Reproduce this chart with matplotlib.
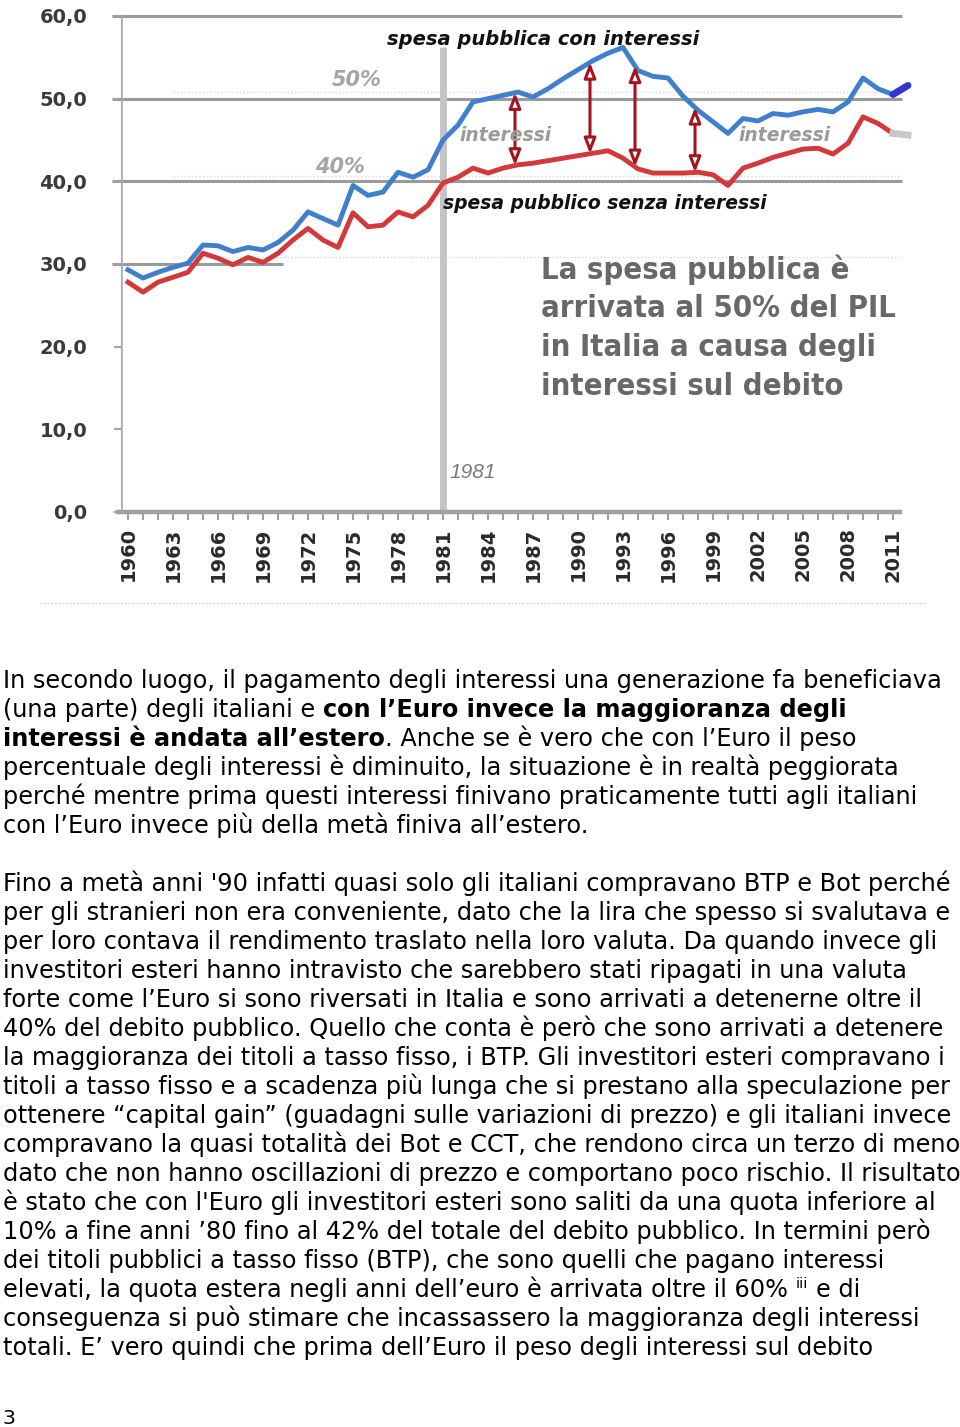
import os
import numpy as np
import matplotlib
matplotlib.use('Agg')
import matplotlib.pyplot as plt
from matplotlib.lines import Line2D
from matplotlib import font_manager as fm

# spesa pubblica in % del PIL
years = list(range(1960, 2012))
con_interessi = [29.3, 28.3, 29.0, 29.6, 30.1, 32.3, 32.2, 31.5, 32.0, 31.7,
                 32.6, 34.1, 36.3, 35.5, 34.7, 39.5, 38.3, 38.7, 41.1, 40.5,
                 41.4, 45.0, 46.8, 49.6, 50.0, 50.4, 50.8, 50.2, 51.2, 52.4,
                 53.5, 54.6, 55.5, 56.2, 53.4, 52.7, 52.5, 50.3, 48.6, 47.2,
                 45.8, 47.6, 47.3, 48.2, 48.0, 48.4, 48.7, 48.4, 49.6, 52.5,
                 51.2, 50.5]
senza_interessi = [27.8, 26.6, 27.8, 28.4, 29.0, 31.3, 30.7, 29.9, 30.8, 30.2,
                   31.3, 32.9, 34.3, 32.9, 32.0, 36.2, 34.5, 34.7, 36.3, 35.7,
                   37.1, 39.8, 40.5, 41.6, 41.0, 41.6, 42.0, 42.2, 42.5, 42.8,
                   43.1, 43.4, 43.7, 42.8, 41.5, 41.0, 41.0, 41.0, 41.1, 40.8,
                   39.5, 41.6, 42.2, 42.9, 43.4, 43.9, 44.0, 43.3, 44.6, 47.8,
                   47.0, 45.8]
forecast_years = [2011, 2012]
forecast_con = [50.5, 51.6]
forecast_senza = [45.8, 45.6]

arrow_years = [1985.8, 1990.8, 1993.8, 1997.8]
ytick_vals = [0, 10, 20, 30, 40, 50, 60]
ytick_labels = ['0,0', '10,0', '20,0', '30,0', '40,0', '50,0', '60,0']
xtick_vals = list(range(1960, 2012, 3))

big_note = ['La spesa pubblica è', 'arrivata al 50% del PIL',
            'in Italia a causa degli', 'interessi sul debito']

para1 = [
    [('In secondo luogo, il pagamento degli interessi una generazione fa beneficiava', 'n')],
    [('(una parte) degli italiani e', 'n'), (' ', 'n'), ('con l’Euro invece la maggioranza degli', 'b')],
    [('interessi è andata all’estero', 'b'), ('. Anche se è vero che con l’Euro il peso', 'n')],
    [('percentuale degli interessi è diminuito, la situazione è in realtà peggiorata', 'n')],
    [('perché mentre prima questi interessi finivano praticamente tutti agli italiani', 'n')],
    [('con l’Euro invece più della metà finiva all’estero.', 'n')],
]
para2 = [
    [("Fino a metà anni '90 infatti quasi solo gli italiani compravano BTP e Bot perché", 'n')],
    [('per gli stranieri non era conveniente, dato che la lira che spesso si svalutava e', 'n')],
    [('per loro contava il rendimento traslato nella loro valuta. Da quando invece gli', 'n')],
    [('investitori esteri hanno intravisto che sarebbero stati ripagati in una valuta', 'n')],
    [('forte come l’Euro si sono riversati in Italia e sono arrivati a detenerne oltre il', 'n')],
    [('40% del debito pubblico. Quello che conta è però che sono arrivati a detenere', 'n')],
    [('la maggioranza dei titoli a tasso fisso, i BTP. Gli investitori esteri compravano i', 'n')],
    [('titoli a tasso fisso e a scadenza più lunga che si prestano alla speculazione per', 'n')],
    [('ottenere “capital gain” (guadagni sulle variazioni di prezzo) e gli italiani invece', 'n')],
    [('compravano la quasi totalità dei Bot e CCT, che rendono circa un terzo di meno', 'n')],
    [('dato che non hanno oscillazioni di prezzo e comportano poco rischio. Il risultato', 'n')],
    [("è stato che con l'Euro gli investitori esteri sono saliti da una quota inferiore al", 'n')],
    [('10% a fine anni ’80 fino al 42% del totale del debito pubblico. In termini però', 'n')],
    [('dei titoli pubblici a tasso fisso (BTP), che sono quelli che pagano interessi', 'n')],
    [('elevati, la quota estera negli anni dell’euro è arrivata oltre il 60%', 'n'), (' ', 'n'),
     ('iii', 's'), (' ', 'n'), ('e di', 'n')],
    [('conseguenza si può stimare che incassassero la maggioranza degli interessi', 'n')],
    [('totali. E’ vero quindi che prima dell’Euro il peso degli interessi sul debito', 'n')],
]

W, H = 960, 1427
fig = plt.figure(figsize=(W / 100, H / 100), dpi=100)
r = fig.canvas.get_renderer()


def fx(px):
    return px / W


def fy(py):
    return 1 - py / H


def find_condensed_bold():
    # look for a narrow/condensed bold face among the installed fonts
    for f in fm.fontManager.ttflist:
        base = os.path.basename(f.fname).lower()
        if ('narrow' in base or 'condensed' in base) and 'bold' in base \
                and 'italic' not in base and 'oblique' not in base:
            return fm.FontProperties(fname=f.fname)
    return fm.FontProperties(family='Liberation Sans', weight='bold')


# chart axes: 1960 at x=128 px, 15 px per year; 0 at y=512, 60 at y=16
x0, x1 = 1959.5, 2013.5
ax = fig.add_axes([fx(120.5), fy(512), 810 / W, 496 / H])
ax.set_xlim(x0, x1)
ax.set_ylim(0, 60)
for s in ax.spines.values():
    s.set_visible(False)

grid_c = '#9a9a9a'
ax.hlines([60, 50, 40], 1958.9, 2011.6, color=grid_c, lw=2.2, zorder=1, clip_on=False)
ax.hlines([30], 1958.9, 1970.3, color=grid_c, lw=2.2, zorder=1, clip_on=False)
ax.hlines([50.8, 40.7, 30.8], 1963, 2011.6, color='#d8d8d8', lw=1, ls=':', zorder=1)
ax.vlines([x0], 0, 60, color='#a8a8a8', lw=1.8, zorder=1)
ax.hlines([0], x0 - 0.3, 2011.6, color='#a0a0a0', lw=3.2, zorder=2, clip_on=False)
ax.vlines([1981], 0, 56.2, color='#c4c4c4', lw=5, zorder=1)

ax.set_yticks(ytick_vals)
ax.set_yticklabels(ytick_labels, fontsize=14, fontweight='bold', color='#3a3a3a')
ax.tick_params(axis='y', length=5, width=1.5, color='#a0a0a0', pad=19)
ax.set_xticks(xtick_vals)
ax.set_xticklabels([str(y) for y in xtick_vals], rotation=90, fontsize=14,
                   fontweight='bold', color='#2a2a2a')
ax.set_xticks(years, minor=True)
ax.tick_params(axis='x', which='both', length=6, width=1.5, color='#a0a0a0', pad=5)

ax.plot(years, con_interessi, color='#3f7fcc', lw=3.5, zorder=3, solid_joinstyle='round')
ax.plot(years, senza_interessi, color='#d3383a', lw=3.5, zorder=3, solid_joinstyle='round')
ax.plot(forecast_years, forecast_con, color='#3535d6', lw=5, zorder=3, solid_capstyle='round')
ax.plot(forecast_years, forecast_senza, color='#c8c8c8', lw=5, zorder=3)

for xa in arrow_years:
    top = np.interp(xa, years, con_interessi)
    bot = np.interp(xa, years, senza_interessi)
    ax.annotate('', xy=(xa, top), xytext=(xa, bot), zorder=4,
                arrowprops=dict(arrowstyle='<|-|>,head_length=0.9,head_width=0.35',
                                color='#a3141f', fc='white', lw=2.2,
                                shrinkA=0, shrinkB=0))

ax.text(1987.7, 57.2, 'spesa pubblica con interessi', fontsize=14, fontweight='bold',
        style='italic', ha='center', va='center', color='#111111', zorder=5)
ax.text(1980.97, 37.3, 'spesa pubblico senza interessi', fontsize=13.5, fontweight='bold',
        style='italic', ha='left', va='center', color='#111111', zorder=5)
ax.text(1982.1, 45.6, 'interessi', fontsize=13.5, fontweight='bold', style='italic',
        ha='left', va='center', color='#9a9a9a', zorder=5)
ax.text(2000.7, 45.6, 'interessi', fontsize=13.5, fontweight='bold', style='italic',
        ha='left', va='center', color='#9a9a9a', zorder=5)
ax.text(1973.6, 52.2, '50%', fontsize=15, fontweight='bold', style='italic',
        ha='left', va='center', color='#a5a5a5', zorder=5)
ax.text(1972.5, 41.7, '40%', fontsize=15, fontweight='bold', style='italic',
        ha='left', va='center', color='#a5a5a5', zorder=5)
ax.text(1981.4, 4.8, '1981', fontsize=15, style='italic', family='Liberation Sans',
        ha='left', va='center', color='#7a7a7a', zorder=5)

# big gray note, fitted so that its widest line is ~354 px
note_fp = find_condensed_bold()
probe = fig.text(0, 0, big_note[1], fontproperties=note_fp, fontsize=26)
note_size = 26 * 354 / probe.get_window_extent(r).width
probe.remove()
for i, line in enumerate(big_note):
    fig.text(fx(541), fy(270 + i * 38.7), line, fontproperties=note_fp,
             fontsize=note_size, color='#686868', ha='left', va='center')

fig.add_artist(Line2D([fx(40), fx(925)], [fy(603), fy(603)], ls=':', lw=1, color='#cccccc'))


# body text
def text_w(s, size, weight='normal'):
    t = fig.text(0, 0, s, fontsize=size, fontweight=weight, family='DejaVu Sans')
    w = t.get_window_extent(r).width
    t.remove()
    return w


size = 16 * 944 / text_w(para1[0][0][0], 16)
space = text_w('a a', size) - text_w('aa', size)


def draw_line(segs, base):
    x = 3
    for txt, kind in segs:
        if txt == ' ':
            x += space
            continue
        if kind == 's':
            t = fig.text(fx(x), fy(base - 9), txt, fontsize=size * 0.6, va='baseline',
                         family='DejaVu Sans', color='black')
        else:
            t = fig.text(fx(x), fy(base), txt, fontsize=size, va='baseline',
                         fontweight='bold' if kind == 'b' else 'normal',
                         family='DejaVu Sans', color='black')
        x = t.get_window_extent(r).x1


for i, line in enumerate(para1):
    draw_line(line, 688 + i * 29)
for i, line in enumerate(para2):
    draw_line(line, 891 + i * 29)

fig.text(fx(3), fy(1424), '3', fontsize=size * 0.85, va='baseline', family='DejaVu Sans')

fig.savefig('out.png', dpi=100)
